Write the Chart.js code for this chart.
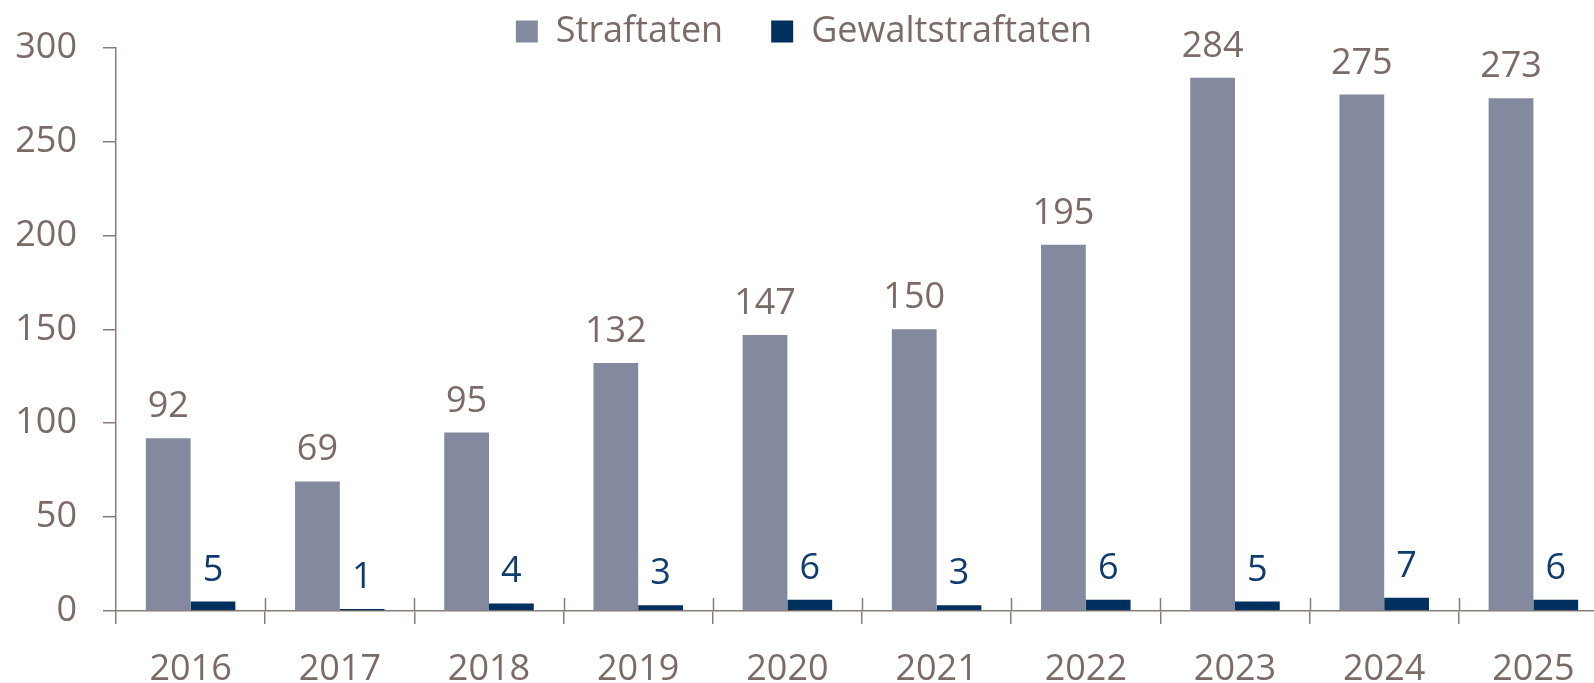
<!DOCTYPE html>
<html lang="de">
<head>
<meta charset="utf-8">
<title>Straftaten und Gewaltstraftaten</title>
<script src="https://cdn.jsdelivr.net/npm/chart.js@4/dist/chart.umd.min.js"></script>
<style>
    html, body { margin: 0; padding: 0; background: #ffffff; overflow: hidden; }
    #wrap { position: relative; width: 1608px; height: 683px; }
</style>
</head>
<body>
<div id="wrap"><canvas id="crime-chart"></canvas></div>
<script>
const years = ['2016', '2017', '2018', '2019', '2020', '2021', '2022', '2023', '2024', '2025'];
const straftaten = [92, 69, 95, 132, 147, 150, 195, 284, 275, 273];
const gewaltstraftaten = [5, 1, 4, 3, 6, 3, 6, 5, 7, 6];
const yTicks = [0, 50, 100, 150, 200, 250, 300];

const palette = {
    straftaten: '#838a9f',
    gewalt: '#00305e',
    gewaltLabel: '#0f3c6e',
    text: '#7b6b66',
    axis: '#8c7c77',
};

const chartFont = { family: "'Open Sans', 'Noto Sans', sans-serif", size: 36 };
const legendPadding = 48;

// legend sits over the top of the plot, like in the source layout
const legendOverlay = {
    id: 'legendOverlay',
    beforeLayout(chart) {
        const legend = chart.legend;
        if (!legend || legend._patched) {
            return;
        }
        const fit = legend.fit.bind(legend);
        legend.fit = function () {
            fit();
            this.height = 46;
        };
        legend._patched = true;
    },
    afterLayout(chart) {
        if (chart.legend) {
            chart.legend.top -= legendPadding - 12;
        }
    },
};

// value labels above bars + short crossing ticks on the category axis
const barLabels = {
    id: 'barLabels',
    afterDatasetsDraw(chart) {
        const { ctx } = chart;
        ctx.save();
        ctx.font = `${chartFont.size}px ${chartFont.family}`;
        ctx.textAlign = 'center';
        ctx.textBaseline = 'alphabetic';
        chart.data.datasets.forEach((ds, i) => {
            const meta = chart.getDatasetMeta(i);
            ctx.fillStyle = i === 0 ? palette.text : palette.gewaltLabel;
            meta.data.forEach((bar, j) => {
                ctx.fillText(String(ds.data[j]), bar.x, bar.y - 21);
            });
        });

        const xScale = chart.scales.x;
        const yBottom = chart.chartArea.bottom;
        ctx.strokeStyle = palette.axis;
        ctx.lineWidth = 1.5;
        ctx.beginPath();
        for (let i = 1; i < years.length; i++) {
            const x = Math.round((xScale.getPixelForTick(i - 1) + xScale.getPixelForTick(i)) / 2) + 0.5;
            ctx.moveTo(x, yBottom - 13);
            ctx.lineTo(x, yBottom);
        }
        ctx.stroke();
        ctx.restore();
    },
};

new Chart(document.getElementById('crime-chart'), {
    type: 'bar',
    data: {
        labels: years,
        datasets: [
            {
                label: 'Straftaten',
                data: straftaten,
                backgroundColor: palette.straftaten,
                borderWidth: 0,
                categoryPercentage: 0.6,
                barPercentage: 1.0,
            },
            {
                label: 'Gewaltstraftaten',
                data: gewaltstraftaten,
                backgroundColor: palette.gewalt,
                borderWidth: 0,
                categoryPercentage: 0.6,
                barPercentage: 1.0,
            },
        ],
    },
    options: {
        responsive: true,
        maintainAspectRatio: false,
        animation: false,
        layout: { padding: 0 },
        plugins: {
            legend: {
                position: 'top',
                align: 'center',
                labels: {
                    boxWidth: 22,
                    boxHeight: 22,
                    padding: legendPadding,
                    color: palette.text,
                    font: chartFont,
                },
            },
            tooltip: { enabled: false },
        },
        scales: {
            x: {
                afterFit(scale) {
                    scale.height = 72;
                },
                border: { color: palette.axis, width: 1.5 },
                grid: {
                    offset: true,
                    drawOnChartArea: false,
                    drawTicks: true,
                    tickLength: 13,
                    color: palette.axis,
                    lineWidth: 1.5,
                },
                ticks: {
                    color: palette.text,
                    font: chartFont,
                    padding: 24,
                    maxRotation: 0,
                },
            },
            y: {
                min: 0,
                max: 300,
                afterFit(scale) {
                    scale.width = 116;
                },
                afterBuildTicks(scale) {
                    scale.ticks = yTicks.map((v) => ({ value: v }));
                },
                border: { color: palette.axis, width: 1.5 },
                grid: {
                    drawOnChartArea: false,
                    drawTicks: true,
                    tickLength: 13,
                    color: palette.axis,
                    lineWidth: 1.5,
                },
                ticks: {
                    color: palette.text,
                    font: chartFont,
                    padding: 26,
                },
            },
        },
    },
    plugins: [legendOverlay, barLabels],
});
</script>
</body>
</html>
